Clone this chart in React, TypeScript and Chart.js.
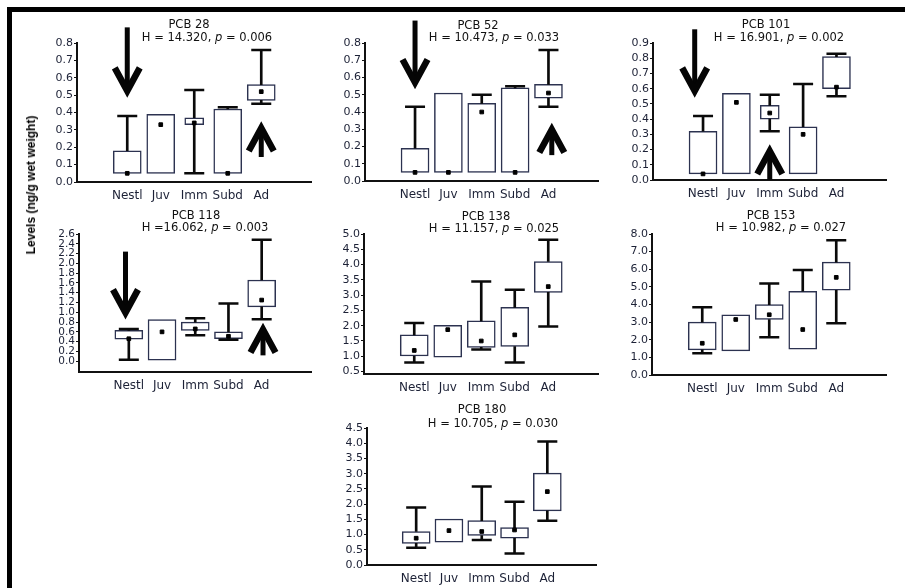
import React, { useEffect, useRef } from 'react';
import { Chart, registerables } from 'chart.js';

Chart.register(...registerables);

// ---------- DATA ----------
const CATEGORIES = ['Nestl', 'Juv', 'Imm', 'Subd', 'Ad'];

// PCB 28
const PCB28_MIN = [0.05, 0.05, 0.05, 0.05, 0.45];
const PCB28_Q1 = [0.05, 0.05, 0.33, 0.05, 0.47];
const PCB28_Q3 = [0.18, 0.39, 0.37, 0.42, 0.56];
const PCB28_MAX = [0.38, 0.39, 0.53, 0.43, 0.76];
const PCB28_MEAN = [0.05, 0.33, 0.34, 0.05, 0.52];
const PCB28_TICKS = [0, 0.1, 0.2, 0.3, 0.4, 0.5, 0.6, 0.7, 0.8];
const PCB28_STAT = ['H = 14.320, ', 'p', ' = 0.006'];
const PCB28_ARROWS = [{ x: 0, from: 0.89, to: 0.49 }, { x: 4, from: 0.144, to: 0.345 }];

// PCB 52
const PCB52_MIN = [0.05, 0.05, 0.05, 0.05, 0.43];
const PCB52_Q1 = [0.05, 0.05, 0.05, 0.05, 0.48];
const PCB52_Q3 = [0.19, 0.51, 0.45, 0.54, 0.56];
const PCB52_MAX = [0.43, 0.51, 0.5, 0.55, 0.76];
const PCB52_MEAN = [0.05, 0.05, 0.4, 0.05, 0.51];
const PCB52_TICKS = [0, 0.1, 0.2, 0.3, 0.4, 0.5, 0.6, 0.7, 0.8];
const PCB52_STAT = ['H = 10.473, ', 'p', ' = 0.033'];
const PCB52_ARROWS = [{ x: 0, from: 0.93, to: 0.536 }, { x: 4.1, from: 0.15, to: 0.333 }];

// PCB 101
const PCB101_MIN = [0.04, 0.04, 0.32, 0.04, 0.55];
const PCB101_Q1 = [0.04, 0.04, 0.4, 0.04, 0.6];
const PCB101_Q3 = [0.32, 0.57, 0.49, 0.35, 0.81];
const PCB101_MAX = [0.42, 0.57, 0.56, 0.63, 0.83];
const PCB101_MEAN = [0.04, 0.51, 0.44, 0.3, 0.61];
const PCB101_TICKS = [0, 0.1, 0.2, 0.3, 0.4, 0.5, 0.6, 0.7, 0.8, 0.9];
const PCB101_STAT = ['H = 16.901, ', 'p', ' = 0.002'];
const PCB101_ARROWS = [{ x: -0.25, from: 0.99, to: 0.546 }, { x: 2, from: 0.0, to: 0.23 }];

// PCB 118
const PCB118_MIN = [0.03, 0.02, 0.53, 0.44, 0.86];
const PCB118_Q1 = [0.45, 0.02, 0.63, 0.46, 1.11];
const PCB118_Q3 = [0.63, 0.85, 0.8, 0.6, 1.66];
const PCB118_MAX = [0.66, 0.85, 0.88, 1.18, 2.48];
const PCB118_MEAN = [0.46, 0.6, 0.66, 0.51, 1.25];
const PCB118_TICKS = [0, 0.2, 0.4, 0.6, 0.8, 1.0, 1.2, 1.4, 1.6, 1.8, 2.0, 2.2, 2.4, 2.6];
const PCB118_STAT = ['H =16.062, ', 'p', ' = 0.003'];
const PCB118_ARROWS = [{ x: -0.1, from: 2.24, to: 0.87 }, { x: 4.04, from: 0.12, to: 0.77 }];

// PCB 138
const PCB138_MIN = [0.8, 0.97, 1.22, 0.8, 1.97];
const PCB138_Q1 = [1.01, 0.97, 1.29, 1.32, 3.09];
const PCB138_Q3 = [1.7, 2.01, 2.16, 2.6, 4.1];
const PCB138_MAX = [2.09, 2.01, 3.45, 3.18, 4.81];
const PCB138_MEAN = [1.19, 1.87, 1.5, 1.7, 3.28];
const PCB138_TICKS = [0.5, 1.0, 1.5, 2.0, 2.5, 3.0, 3.5, 4.0, 4.5, 5.0];
const PCB138_STAT = ['H = 11.157, ', 'p', ' = 0.025'];

// PCB 153
const PCB153_MIN = [1.24, 1.37, 2.14, 1.47, 2.94];
const PCB153_Q1 = [1.43, 1.37, 3.15, 1.47, 4.81];
const PCB153_Q3 = [3.0, 3.42, 3.99, 4.75, 6.4];
const PCB153_MAX = [3.85, 3.42, 5.19, 5.96, 7.64];
const PCB153_MEAN = [1.8, 3.15, 3.42, 2.58, 5.54];
const PCB153_TICKS = [0, 1, 2, 3, 4, 5, 6, 7, 8];
const PCB153_STAT = ['H = 10.982, ', 'p', ' = 0.027'];

// PCB 180
const PCB180_MIN = [0.57, 0.75, 0.82, 0.38, 1.45];
const PCB180_Q1 = [0.71, 0.75, 0.97, 0.88, 1.78];
const PCB180_Q3 = [1.1, 1.51, 1.46, 1.23, 3.02];
const PCB180_MAX = [1.89, 1.51, 2.58, 2.08, 4.06];
const PCB180_MEAN = [0.88, 1.13, 1.1, 1.15, 2.41];
const PCB180_TICKS = [0, 0.5, 1.0, 1.5, 2.0, 2.5, 3.0, 3.5, 4.0, 4.5];
const PCB180_STAT = ['H = 10.705, ', 'p', ' = 0.030'];

const Y_LABEL = 'Levels (ng/g wet weight)';

// ---------- LAYOUT / STYLE ----------
const YW = 40;
const PADT = 32;
const PADR = 6;
const XH = 24;
const FONT = '"DejaVu Sans", "Liberation Sans", Arial, sans-serif';
const TEXT = '#1c2136';
const BOX_BORDER = '#2c3250';

type Panel = {
  title: string;
  stat: string[];
  min: number[]; q1: number[]; q3: number[]; max: number[]; mean: number[];
  ticks: number[];
  yMin: number; yMax: number;
  arrows: { x: number; from: number; to: number }[];
  narrow: number[];
  tickSize: number;
  plot: { l: number; t: number; r: number; b: number };
  titlePos: [number, number];
  statPos: [number, number];
};

const PANELS: Panel[] = [
  {
    title: 'PCB 28', stat: PCB28_STAT, min: PCB28_MIN, q1: PCB28_Q1, q3: PCB28_Q3, max: PCB28_MAX, mean: PCB28_MEAN,
    ticks: PCB28_TICKS, yMin: 0, yMax: 0.8, arrows: PCB28_ARROWS, narrow: [2], tickSize: 11,
    plot: { l: 77, t: 43, r: 318, b: 182 }, titlePos: [189, 25], statPos: [207, 38],
  },
  {
    title: 'PCB 52', stat: PCB52_STAT, min: PCB52_MIN, q1: PCB52_Q1, q3: PCB52_Q3, max: PCB52_MAX, mean: PCB52_MEAN,
    ticks: PCB52_TICKS, yMin: 0, yMax: 0.8, arrows: PCB52_ARROWS, narrow: [], tickSize: 11,
    plot: { l: 365, t: 43, r: 605, b: 181 }, titlePos: [478, 26], statPos: [494, 38],
  },
  {
    title: 'PCB 101', stat: PCB101_STAT, min: PCB101_MIN, q1: PCB101_Q1, q3: PCB101_Q3, max: PCB101_MAX, mean: PCB101_MEAN,
    ticks: PCB101_TICKS, yMin: 0, yMax: 0.9, arrows: PCB101_ARROWS, narrow: [2], tickSize: 11,
    plot: { l: 653, t: 43, r: 893, b: 180 }, titlePos: [766, 25], statPos: [779, 38],
  },
  {
    title: 'PCB 118', stat: PCB118_STAT, min: PCB118_MIN, q1: PCB118_Q1, q3: PCB118_Q3, max: PCB118_MAX, mean: PCB118_MEAN,
    ticks: PCB118_TICKS, yMin: -0.22, yMax: 2.6, arrows: PCB118_ARROWS, narrow: [], tickSize: 10.5,
    plot: { l: 79, t: 234, r: 318, b: 372 }, titlePos: [196, 216], statPos: [205, 228],
  },
  {
    title: 'PCB 138', stat: PCB138_STAT, min: PCB138_MIN, q1: PCB138_Q1, q3: PCB138_Q3, max: PCB138_MAX, mean: PCB138_MEAN,
    ticks: PCB138_TICKS, yMin: 0.42, yMax: 5.0, arrows: [], narrow: [], tickSize: 11,
    plot: { l: 364, t: 234, r: 605, b: 374 }, titlePos: [486, 217], statPos: [494, 229],
  },
  {
    title: 'PCB 153', stat: PCB153_STAT, min: PCB153_MIN, q1: PCB153_Q1, q3: PCB153_Q3, max: PCB153_MAX, mean: PCB153_MEAN,
    ticks: PCB153_TICKS, yMin: 0, yMax: 8, arrows: [], narrow: [], tickSize: 11,
    plot: { l: 652, t: 234, r: 893, b: 374.5 }, titlePos: [771, 216], statPos: [781, 228],
  },
  {
    title: 'PCB 180', stat: PCB180_STAT, min: PCB180_MIN, q1: PCB180_Q1, q3: PCB180_Q3, max: PCB180_MAX, mean: PCB180_MEAN,
    ticks: PCB180_TICKS, yMin: 0, yMax: 4.5, arrows: [], narrow: [], tickSize: 11,
    plot: { l: 367, t: 428, r: 603, b: 565 }, titlePos: [482, 410], statPos: [493, 424],
  },
];

function drawArrow(ctx: CanvasRenderingContext2D, x: number, y0: number, y1: number) {
  const dir = y1 > y0 ? 1 : -1;
  const headH = 23;
  const headW = 12.5;
  ctx.save();
  ctx.strokeStyle = '#050505';
  ctx.lineCap = 'butt';
  ctx.lineJoin = 'miter';
  ctx.lineWidth = 5;
  ctx.beginPath();
  ctx.moveTo(x, y0);
  ctx.lineTo(x, y1 - dir * 6);
  ctx.stroke();
  ctx.lineWidth = 6.5;
  ctx.beginPath();
  ctx.moveTo(x - headW, y1 - dir * (headH + 6));
  ctx.lineTo(x, y1 - dir * 6);
  ctx.lineTo(x + headW, y1 - dir * (headH + 6));
  ctx.stroke();
  ctx.restore();
}

function BoxPanel({ p }: { p: Panel }) {
  const ref = useRef<HTMLCanvasElement | null>(null);
  const { l, t, r, b } = p.plot;
  const W = Math.round(r - l + YW + PADR);
  const H = Math.round(b - t + PADT + XH);

  useEffect(() => {
    if (!ref.current) return;
    const idx = CATEGORIES.map((_, i) => i);
    const boxData = (ids: number[]) => ids.map((i) => ({ x: i, y: [p.q1[i], p.q3[i]] }));
    const wideIds = idx.filter((i) => !p.narrow.includes(i));
    const narrowIds = idx.filter((i) => p.narrow.includes(i));
    const upIds = idx.filter((i) => p.max[i] > p.q3[i]);
    const loIds = idx.filter((i) => p.min[i] < p.q1[i]);

    const arrowPlugin = {
      id: 'arrows',
      afterDatasetsDraw(chart: any) {
        const xs = chart.scales.x;
        const ys = chart.scales.y;
        p.arrows.forEach((a) => {
          drawArrow(chart.ctx, xs.getPixelForValue(a.x), ys.getPixelForValue(a.from), ys.getPixelForValue(a.to));
        });
      },
    };

    const chart = new Chart(ref.current, {
      type: 'bar',
      data: {
        datasets: [
          {
            type: 'bar', data: boxData(wideIds) as any, backgroundColor: '#ffffff', borderColor: BOX_BORDER,
            borderWidth: 1.5, borderSkipped: false, barThickness: 28, grouped: false, order: 5,
          },
          {
            type: 'bar', data: boxData(narrowIds) as any, backgroundColor: '#ffffff', borderColor: BOX_BORDER,
            borderWidth: 1.5, borderSkipped: false, barThickness: 19, grouped: false, order: 5,
          },
          {
            type: 'bar', data: upIds.map((i) => ({ x: i, y: [p.q3[i], p.max[i]] })) as any, backgroundColor: '#0a0a0a',
            borderWidth: 0, barThickness: 2, grouped: false, order: 4,
          },
          {
            type: 'bar', data: loIds.map((i) => ({ x: i, y: [p.min[i], p.q1[i]] })) as any, backgroundColor: '#0a0a0a',
            borderWidth: 0, barThickness: 2, grouped: false, order: 4,
          },
          {
            type: 'scatter',
            data: [...upIds.map((i) => ({ x: i, y: p.max[i] })), ...loIds.map((i) => ({ x: i, y: p.min[i] }))],
            pointStyle: 'line', pointRadius: 10, borderColor: '#0a0a0a', borderWidth: 2.5, order: 2,
          } as any,
          {
            type: 'scatter', data: idx.map((i) => ({ x: i, y: p.mean[i] })),
            pointStyle: 'rect', pointRadius: 2.6, backgroundColor: '#000', borderColor: '#000', borderWidth: 1, order: 1,
          } as any,
        ],
      },
      options: {
        animation: false,
        responsive: false,
        devicePixelRatio: 1,
        events: [],
        layout: { padding: { top: PADT, right: PADR, left: 0, bottom: 0 } },
        plugins: { legend: { display: false }, tooltip: { enabled: false }, title: { display: false } },
        scales: {
          x: {
            type: 'linear', min: -1.5, max: 5.5, offset: false,
            grid: { display: false, drawTicks: false },
            border: { display: true, width: 2, color: '#111' },
            ticks: {
              autoSkip: false, maxRotation: 0, padding: 7, color: TEXT,
              font: { family: FONT, size: 12 },
              callback: (v: any) => CATEGORIES[Math.round(Number(v))] ?? '',
            },
            afterBuildTicks: (s: any) => { s.ticks = idx.map((i) => ({ value: i })); },
            afterFit: (s: any) => { s.height = XH; },
          },
          y: {
            type: 'linear', min: p.yMin, max: p.yMax,
            grid: { display: true, drawOnChartArea: false, drawTicks: true, tickLength: 3, color: '#111' },
            border: { display: true, width: 2, color: '#111' },
            ticks: {
              autoSkip: false, padding: 1, color: TEXT,
              font: { family: FONT, size: p.tickSize },
              callback: (v: any) => Number(v).toFixed(1),
            },
            afterBuildTicks: (s: any) => { s.ticks = p.ticks.map((v) => ({ value: v })); },
            afterFit: (s: any) => { s.width = YW; },
          },
        },
      } as any,
      plugins: [arrowPlugin],
    });
    return () => chart.destroy();
  }, []);

  return (
    <canvas
      ref={ref}
      width={W}
      height={H}
      style={{ position: 'absolute', left: l - YW, top: t - PADT, width: W, height: H, display: 'block' }}
    />
  );
}

export default function App() {
  const titleStyle = (x: number, y: number): React.CSSProperties => ({
    position: 'absolute', left: x, top: y, transform: 'translate(-50%, -50%)', whiteSpace: 'nowrap',
    fontFamily: FONT, fontSize: 11.5, color: '#111', lineHeight: 1,
  });
  return (
    <div style={{ position: 'absolute', left: 0, top: 0, width: 905, height: 588, background: '#fff', overflow: 'hidden' }}>
      <div style={{ position: 'absolute', left: 7, top: 7, width: 898, height: 5, background: '#000' }} />
      <div style={{ position: 'absolute', left: 7, top: 7, width: 5, height: 581, background: '#000' }} />
      {PANELS.map((p) => <BoxPanel key={p.title} p={p} />)}
      {PANELS.map((p) => (
        <React.Fragment key={p.title + '-t'}>
          <div style={titleStyle(p.titlePos[0], p.titlePos[1])}>{p.title}</div>
          <div style={titleStyle(p.statPos[0], p.statPos[1])}>
            {p.stat[0]}<i>{p.stat[1]}</i>{p.stat[2]}
          </div>
        </React.Fragment>
      ))}
      <div
        style={{
          position: 'absolute', left: 31, top: 185, transform: 'translate(-50%, -50%) rotate(-90deg)',
          whiteSpace: 'nowrap', fontFamily: '"Liberation Sans", Arial, sans-serif', fontWeight: 'bold',
          fontSize: 12, color: '#000', lineHeight: 1,
        }}
      >
        {Y_LABEL}
      </div>
    </div>
  );
}
